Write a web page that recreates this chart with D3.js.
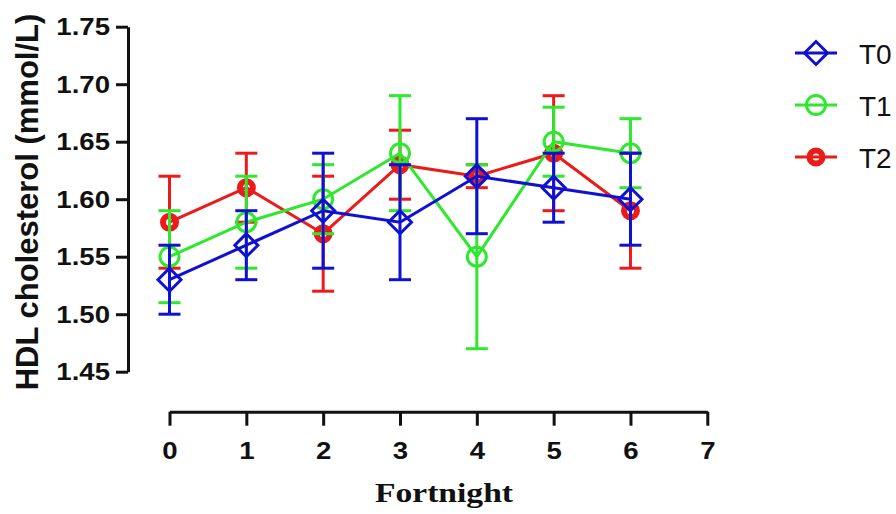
<!DOCTYPE html>
<html>
<head>
<meta charset="utf-8">
<script src="https://cdn.jsdelivr.net/npm/d3@7"></script>
<style>
  body { margin: 0; background: #fff; }
  svg { display: block; }
  .axis path, .axis line { stroke: #111; stroke-width: 3; }
  .axis text { font-family: "Liberation Sans", Arial, sans-serif; font-weight: bold; font-size: 23px; fill: #111; }
</style>
</head>
<body>
<svg class="chart" width="896" height="514"></svg>
<script>
const fortnights = [0, 1, 2, 3, 4, 5, 6]
const xTicks = [0, 1, 2, 3, 4, 5, 6, 7]
const yTicks = [1.45, 1.50, 1.55, 1.60, 1.65, 1.70, 1.75]

const t0Mean = [1.53, 1.56, 1.59, 1.58, 1.62, 1.61, 1.60]
const t0Err  = [0.03, 0.03, 0.05, 0.05, 0.05, 0.03, 0.04]
const t1Mean = [1.55, 1.58, 1.60, 1.64, 1.55, 1.65, 1.64]
const t1Err  = [0.04, 0.04, 0.03, 0.05, 0.08, 0.03, 0.03]
const t2Mean = [1.58, 1.61, 1.57, 1.63, 1.62, 1.64, 1.59]
const t2Err  = [0.04, 0.03, 0.05, 0.03, 0.01, 0.05, 0.05]

const seriesNames = ["T0", "T1", "T2"]

const series = [
    { name: "T2", mean: t2Mean, err: t2Err, color: "#ec1b1b", shape: "ring" },
    { name: "T1", mean: t1Mean, err: t1Err, color: "#2ee82e", shape: "circle" },
    { name: "T0", mean: t0Mean, err: t0Err, color: "#1010d2", shape: "diamond" }
]

const svg = d3.select("svg.chart")

const x = d3.scaleLinear()
    .domain([0, 7])
    .range([169.5, 707.3])

const y = d3.scaleLinear()
    .domain([1.45, 1.75])
    .range([371.7, 26.7])

// axes
const yAxis = svg.append("g")
    .attr("class", "axis")
    .attr("transform", "translate(128, 0)")
    .call(d3.axisLeft(y).tickValues(yTicks).tickSize(12).tickSizeOuter(0).tickFormat(d3.format(".2f")))

yAxis.selectAll("text")
    .attr("x", -15)
    .attr("dy", "0.36em")
    .attr("transform", "scale(1.2, 1)")

const xAxis = svg.append("g")
    .attr("class", "axis")
    .attr("transform", "translate(0, 411.7)")
    .call(d3.axisBottom(x).tickValues(xTicks).tickSize(14).tickSizeOuter(0).tickFormat(d3.format("d")))

xAxis.selectAll("text")
    .attr("y", 47)
    .attr("dy", 0)
    .attr("transform", "scale(1.2, 1)")

svg.append("text")
    .attr("transform", "translate(38, 202) rotate(-90)")
    .attr("text-anchor", "middle")
    .style("font-family", "Liberation Sans, Arial, sans-serif")
    .style("font-weight", "bold")
    .style("font-size", "31px")
    .style("fill", "#111")
    .text("HDL cholesterol (mmol/L)")

svg.append("text")
    .attr("transform", "translate(444, 502) scale(1.2, 1)")
    .attr("text-anchor", "middle")
    .style("font-family", "Liberation Serif, Times New Roman, serif")
    .style("font-weight", "bold")
    .style("font-size", "28px")
    .style("fill", "#111")
    .text("Fortnight")

// markers
function drawMarker(g, shape, color) {
    if (shape === "diamond") {
        g.append("path")
            .attr("d", "M0,-11.5L11.5,0L0,11.5L-11.5,0Z")
            .attr("fill", "none")
            .attr("stroke", color)
            .attr("stroke-width", 3)
    } else if (shape === "circle") {
        g.append("circle")
            .attr("r", 9.5)
            .attr("fill", "none")
            .attr("stroke", color)
            .attr("stroke-width", 3)
    } else {
        g.append("circle")
            .attr("r", 6.5)
            .attr("fill", "none")
            .attr("stroke", color)
            .attr("stroke-width", 6)
    }
}

const line = d3.line()
    .x((d, i) => { return x(fortnights[i]) })
    .y((d) => { return y(d) })

series.forEach((s) => {
    const g = svg.append("g")

    const bars = g.selectAll("g.err")
        .data(s.mean)
        .enter()
        .append("g")
        .attr("class", "err")
        .attr("stroke", s.color)
        .attr("stroke-width", 3)

    bars.append("line")
        .attr("x1", (d, i) => { return x(fortnights[i]) })
        .attr("x2", (d, i) => { return x(fortnights[i]) })
        .attr("y1", (d, i) => { return y(d - s.err[i]) })
        .attr("y2", (d, i) => { return y(d + s.err[i]) })

    bars.append("line")
        .attr("x1", (d, i) => { return x(fortnights[i]) - 11 })
        .attr("x2", (d, i) => { return x(fortnights[i]) + 11 })
        .attr("y1", (d, i) => { return y(d + s.err[i]) })
        .attr("y2", (d, i) => { return y(d + s.err[i]) })

    bars.append("line")
        .attr("x1", (d, i) => { return x(fortnights[i]) - 11 })
        .attr("x2", (d, i) => { return x(fortnights[i]) + 11 })
        .attr("y1", (d, i) => { return y(d - s.err[i]) })
        .attr("y2", (d, i) => { return y(d - s.err[i]) })

    g.append("path")
        .datum(s.mean)
        .attr("d", line)
        .attr("fill", "none")
        .attr("stroke", s.color)
        .attr("stroke-width", 3)

    g.selectAll("g.mark")
        .data(s.mean)
        .enter()
        .append("g")
        .attr("class", "mark")
        .attr("transform", (d, i) => { return "translate(" + x(fortnights[i]) + "," + y(d) + ")" })
        .each(function () { drawMarker(d3.select(this), s.shape, s.color) })
})

// legend
const legendScale = d3.scalePoint()
    .domain(seriesNames)
    .range([53, 157])

const legend = svg.selectAll("g.legend")
    .data(seriesNames)
    .enter()
    .append("g")
    .attr("class", "legend")
    .attr("transform", (d) => { return "translate(816," + legendScale(d) + ")" })

legend.each(function (d) {
    const s = series.find((e) => e.name === d)
    const g = d3.select(this)
    g.append("line")
        .attr("x1", -21)
        .attr("x2", 21)
        .attr("stroke", s.color)
        .attr("stroke-width", 3)
    drawMarker(g, s.shape, s.color)
})

legend.append("text")
    .attr("x", 43)
    .attr("y", 10.5)
    .style("font-family", "Liberation Sans, Arial, sans-serif")
    .style("font-size", "28px")
    .style("fill", "#111")
    .text((d) => { return d })
</script>
</body>
</html>
